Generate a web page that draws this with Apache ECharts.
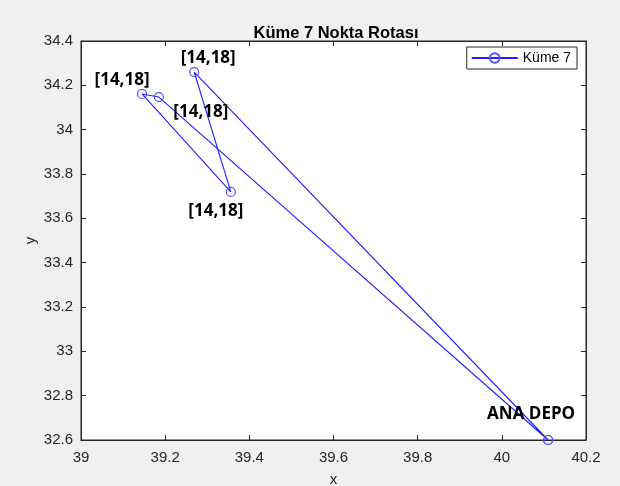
<!DOCTYPE html>
<html>
<head>
<meta charset="utf-8">
<script src="https://cdn.jsdelivr.net/npm/echarts@6/dist/echarts.min.js"></script>
<style>
  html, body { margin: 0; padding: 0; background: #f0f0f0; }
  #main { width: 620px; height: 486px; }
</style>
</head>
<body>
<div id="main"></div>
<script>
// route of cluster 7, depot -> points -> depot
var routeX = [40.11, 39.269, 39.356, 39.145, 39.185, 40.11];
var routeY = [32.6, 34.26, 33.719, 34.161, 34.147, 32.6];
var pointLabels = ['ANA DEPO', '[14,18]', '[14,18]', '[14,18]', '[14,18]', ''];

var xTicks = [39, 39.2, 39.4, 39.6, 39.8, 40, 40.2];
var yTicks = [32.6, 32.8, 33, 33.2, 33.4, 33.6, 33.8, 34, 34.2, 34.4];

var chart = echarts.init(document.getElementById('main'));

// where each text sits relative to its marker
var labelOffsets = [[-17, -26], [14, -14], [-15, 19], [-20, -14], [42, 15], [0, 0]];

var data = [];
for (var i = 0; i < routeX.length; i++) {
    data.push({
        value: [routeX[i], routeY[i]],
        label: {
            show: pointLabels[i] !== '',
            formatter: pointLabels[i],
            position: 'inside',
            offset: labelOffsets[i]
        }
    });
}

var labelFont = { color: '#262626', fontFamily: 'Liberation Sans', fontSize: 15 };

option = {
    backgroundColor: '#f0f0f0',
    animation: false,
    title: {
        text: 'Küme 7 Nokta Rotası',
        left: 331,
        textAlign: 'center',
        top: 20,
        textStyle: { fontFamily: 'Liberation Sans', fontWeight: 'bold', fontSize: 16.5, color: '#000' }
    },
    legend: {
        data: ['Küme 7'],
        right: 43,
        top: 47,
        backgroundColor: '#fff',
        borderColor: '#262626',
        borderWidth: 1,
        borderRadius: 0,
        padding: [4, 6, 4, 4],
        itemWidth: 46,
        itemHeight: 12,
        itemGap: 4,
        textStyle: { fontFamily: 'Liberation Sans', fontSize: 14, color: '#000' }
    },
    grid: {
        left: 81, right: 34, top: 41, bottom: 46,
        containLabel: false, outerBoundsMode: 'none',
        show: true, backgroundColor: '#fff', borderColor: '#262626', borderWidth: 1
    },
    xAxis: [{
        type: 'value',
        min: 39,
        max: 40.2,
        interval: 0.2,
        name: 'x',
        nameLocation: 'middle',
        nameGap: 32,
        nameMoveOverlap: false,
        nameTextStyle: labelFont,
        axisLine: { lineStyle: { color: '#262626' } },
        axisTick: { inside: true, length: 5, lineStyle: { color: '#262626' } },
        axisLabel: {
            color: '#262626', fontFamily: 'Liberation Sans', fontSize: 15, margin: 10,
            formatter: function (v) { return String(Math.round(v * 10) / 10); }
        },
        splitLine: { show: false }
    }, {
        type: 'value',
        position: 'top',
        min: 39,
        max: 40.2,
        interval: 0.2,
        axisLine: { lineStyle: { color: '#262626' } },
        axisTick: { inside: true, length: 5, lineStyle: { color: '#262626' } },
        axisLabel: { show: false },
        splitLine: { show: false }
    }],
    yAxis: [{
        type: 'value',
        min: 32.6,
        max: 34.4,
        interval: 0.2,
        name: 'y',
        nameLocation: 'middle',
        nameGap: 43,
        nameMoveOverlap: false,
        nameTextStyle: labelFont,
        axisLine: { show: true, lineStyle: { color: '#262626' } },
        axisTick: { show: true, inside: true, length: 5, lineStyle: { color: '#262626' } },
        axisLabel: {
            color: '#262626', fontFamily: 'Liberation Sans', fontSize: 15, margin: 8,
            formatter: function (v) { return String(Math.round(v * 10) / 10); }
        },
        splitLine: { show: false }
    }, {
        type: 'value',
        position: 'right',
        min: 32.6,
        max: 34.4,
        interval: 0.2,
        axisLine: { show: true, lineStyle: { color: '#262626' } },
        axisTick: { show: true, inside: true, length: 5, lineStyle: { color: '#262626' } },
        axisLabel: { show: false },
        splitLine: { show: false }
    }],
    series: [{
        name: 'Küme 7',
        type: 'line',
        data: data,
        clip: false,
        symbol: 'circle',
        symbolSize: 9,
        color: '#1f1fff',
        lineStyle: { color: '#1f1fff', width: 1.1 },
        itemStyle: { color: 'rgba(0,0,0,0)', borderColor: '#5050ff', borderWidth: 1.2 },
        label: {
            color: '#000',
            fontFamily: 'Open Sans',
            fontWeight: 'bold',
            fontSize: 17
        },
        emphasis: { disabled: true }
    }]
};

chart.setOption(option);
</script>
</body>
</html>
